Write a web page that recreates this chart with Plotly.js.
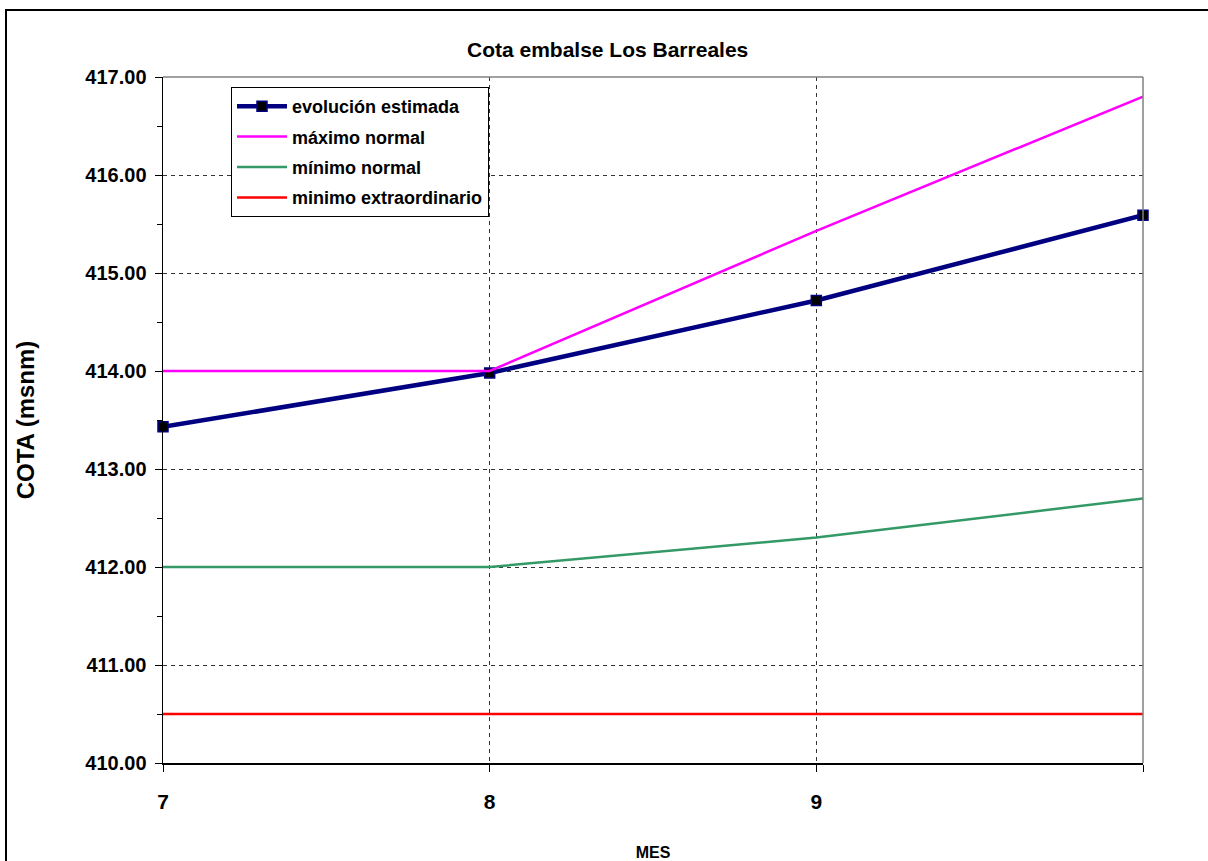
<!DOCTYPE html>
<html>
<head>
<meta charset="utf-8">
<script src="https://cdn.plot.ly/plotly-3.0.1.min.js"></script>
<style>html,body{margin:0;padding:0;background:#fff;}#chart{width:1208px;height:861px;}</style>
</head>
<body>
<div id="chart"></div>
<script>
var months = [7, 8, 9, 10];
var monthLabels = ["7", "8", "9", ""];
var evolucionEstimada = [413.43, 413.98, 414.72, 415.59];
var maximoNormal = [414.0, 414.0, 415.43, 416.80];
var minimoNormal = [412.0, 412.0, 412.30, 412.70];
var minimoExtraordinario = [410.5, 410.5, 410.5, 410.5];
var yTicks = [410, 411, 412, 413, 414, 415, 416, 417];

var FONT = "Liberation Sans, Arial, sans-serif";

var traces = [
  {x: months, y: evolucionEstimada, name: "<b>evolución estimada</b>", mode: "lines+markers",
   legendgroup: "a", cliponaxis: false,
   line: {color: "#000080", width: 4.5},
   marker: {symbol: "square", size: 10, color: "#000000", line: {color: "#000080", width: 1.5}}},
  {x: months, y: maximoNormal, name: "<b>máximo normal</b>", mode: "lines", legendgroup: "b",
   line: {color: "#FF00FF", width: 2.5}},
  {x: months, y: minimoNormal, name: "<b>mínimo normal</b>", mode: "lines", legendgroup: "c",
   line: {color: "#339966", width: 2.5}},
  {x: months, y: minimoExtraordinario, name: "<b>minimo extraordinario</b>", mode: "lines", legendgroup: "d",
   line: {color: "#FF0000", width: 2.5}}
];

var layout = {
  width: 1208, height: 861,
  margin: {l: 163, r: 65, t: 77, b: 98},
  paper_bgcolor: "#ffffff", plot_bgcolor: "#ffffff",
  font: {family: FONT, color: "#000"},
  showlegend: true,
  title: {text: "<b>Cota embalse Los Barreales</b>", font: {family: FONT, size: 21, color: "#000"},
          x: 0.503, xref: "container", y: 1 - 50/861, yanchor: "middle"},
  xaxis: {
    range: [7, 10], tickvals: months, ticktext: monthLabels,
    tickfont: {family: FONT, size: 21, color: "#000", weight: "bold"},
    ticks: "outside", ticklen: 7, tickcolor: "#000", tickwidth: 1,
    ticklabelstandoff: 12,
    showline: true, linecolor: "#000", linewidth: 1.5,
    showgrid: true, gridcolor: "#333", griddash: "4px,4px", gridwidth: 1,
    zeroline: false, automargin: false,
    title: {text: "<b>MES</b>", font: {family: FONT, size: 16, color: "#000"}, standoff: 48}
  },
  yaxis: {
    range: [410, 417], tickvals: yTicks,
    tickformat: ".2f",
    tickfont: {family: FONT, size: 20, color: "#000", weight: "bold"},
    ticks: "outside", ticklen: 7, tickcolor: "#000", tickwidth: 1,
    ticklabelstandoff: 4,
    minor: {dtick: 0.5, ticks: "outside", ticklen: 5, tickcolor: "#000", showgrid: false},
    showline: true, linecolor: "#000", linewidth: 1.5,
    showgrid: true, gridcolor: "#333", griddash: "4px,4px", gridwidth: 1,
    zeroline: false, automargin: false,
    title: {text: "<b>COTA (msnm)</b>", font: {family: FONT, size: 24, color: "#000"}, standoff: 44}
  },
  legend: {
    x: (231 - 163) / 980, y: (763 - 87) / 686, xanchor: "left", yanchor: "top",
    bgcolor: "#ffffff", bordercolor: "#000", borderwidth: 1,
    font: {family: FONT, size: 18, color: "#000"},
    tracegroupgap: 4, itemwidth: 50
  },
  shapes: [
    {type: "line", xref: "paper", yref: "paper", x0: 0, x1: 1, y0: 1, y1: 1,
     line: {color: "#808080", width: 1.5}},
    {type: "line", xref: "paper", yref: "paper", x0: 1, x1: 1, y0: 0, y1: 1,
     line: {color: "#808080", width: 1.5}},
    {type: "rect", xref: "paper", yref: "paper",
     x0: (6 - 163) / 980, x1: 1.2, y0: (763 - 10) / 686, y1: -0.3,
     line: {color: "#000", width: 2}, layer: "below"}
  ]
};

Plotly.newPlot("chart", traces, layout, {displayModeBar: false, staticPlot: true});
</script>
</body>
</html>
